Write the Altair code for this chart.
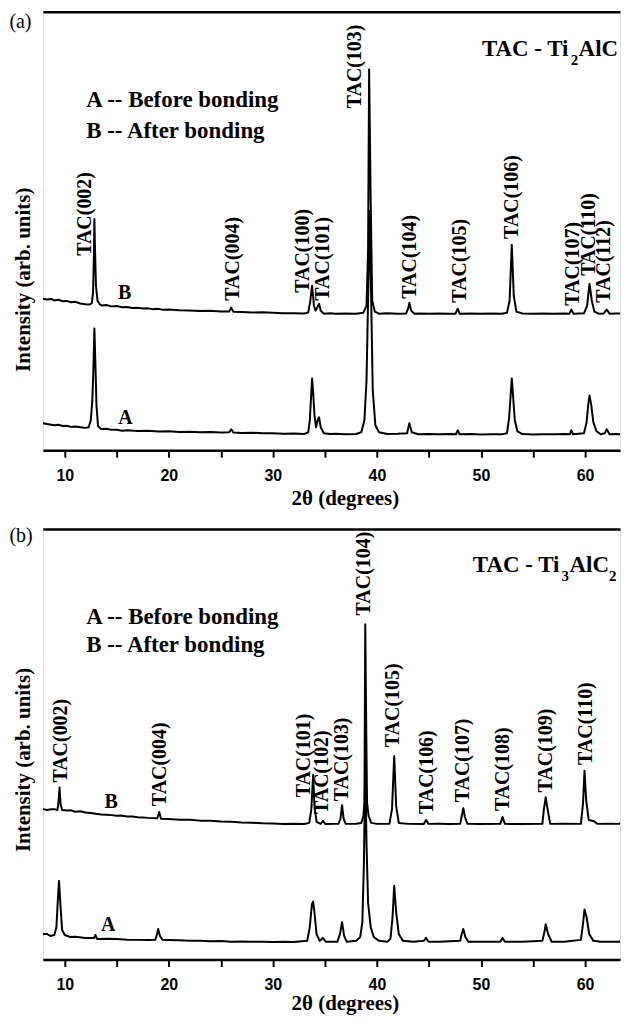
import altair as alt
import pandas as pd

# ---------------- x range of the plots (2theta, degrees) ----------------
X_MIN, X_MAX = 7.9, 63.36
X_TICKS = [10, 15, 20, 25, 30, 35, 40, 45, 50, 55, 60]

# ---------------- Panel (a): TAC - Ti2AlC ----------------
a_B_x = [7.9, 8.3, 8.7, 9.0, 9.4, 9.8, 10.2, 10.6, 11.0, 11.5, 12.0, 12.4, 12.6, 12.72, 12.8, 12.85, 12.9, 13.0, 13.15,
         13.4, 13.6, 14.0, 14.5, 15.0, 15.5, 16.0, 16.5, 17.0, 17.5, 18.0, 18.5, 19.0, 19.5, 20.0, 21.0, 22.0, 23.0,
         24.0, 25.0, 25.8, 26.0, 26.2, 27.0, 28.0, 29.0, 30.0, 31.0, 32.0, 33.0, 33.4, 33.6, 33.77, 33.95, 34.1, 34.3,
         34.44, 34.6, 34.9, 35.5, 36.0, 37.0, 38.0, 38.7, 39.0, 39.15, 39.25, 39.4, 39.55, 39.8, 40.2, 41.0, 42.0,
         42.8, 43.0, 43.12, 43.3, 43.6, 44.0, 45.0, 46.0, 47.0, 47.55, 47.76, 47.95, 49.0, 50.0, 51.0, 52.0, 52.5,
         52.75, 52.96, 53.15, 53.4, 54.0, 55.0, 56.0, 57.0, 58.0, 58.5, 58.68, 58.9, 59.9, 60.2, 60.43, 60.65, 60.9,
         61.3, 61.8, 62.09, 62.35, 63.0, 64.12]
a_B_y = [152, 151.2, 151.8, 150.3, 150.9, 149.4, 149.8, 148.5, 148.9, 147.2, 146.5, 146.2, 147.5, 158, 195, 232, 205,
         165, 150, 146, 145.2, 145.6, 144.3, 144.6, 143.5, 143.7, 142.6, 143, 142.1, 142.3, 141.4, 141.8, 140.8,
         141.1, 140.5, 140.2, 139.6, 139.8, 139.1, 139.2, 143, 139, 138.6, 138.2, 138.4, 137.8, 137.3, 137.5, 137.1,
         138, 150, 165, 145, 140, 144, 147, 140, 137, 137.3, 136.8, 137.2, 136.9, 138, 145, 200, 382, 250, 150, 139,
         137, 137.3, 136.8, 137.2, 142, 148, 140, 137, 137.2, 136.8, 137.1, 136.9, 137, 142, 137, 137.2, 136.8,
         137.1, 137, 138, 150, 206, 155, 139, 137.2, 136.8, 137.1, 136.9, 137.2, 137, 141, 137, 137.3, 145, 167,
         150, 139, 137, 137.2, 141, 137, 137.1, 136.9]

a_A_x = [7.9, 8.3, 8.7, 9.0, 9.4, 9.8, 10.2, 10.6, 11.0, 11.5, 12.0, 12.3, 12.5, 12.65, 12.75, 12.85, 12.95, 13.05,
         13.2, 13.5, 14.0, 14.5, 15.0, 15.5, 16.0, 17.0, 18.0, 19.0, 20.0, 21.0, 22.0, 23.0, 24.0, 25.0, 25.8, 26.0,
         26.2, 27.0, 28.0, 29.0, 30.0, 31.0, 32.0, 33.0, 33.4, 33.55, 33.68, 33.77, 33.87, 34.0, 34.15, 34.3, 34.44,
         34.6, 34.9, 35.5, 36.0, 37.0, 38.0, 38.5, 38.8, 39.0, 39.15, 39.3, 39.45, 39.6, 39.85, 40.2, 41.0, 42.0,
         42.9, 43.12, 43.35, 44.0, 45.0, 46.0, 47.0, 47.6, 47.76, 47.95, 49.0, 50.0, 51.0, 52.0, 52.5, 52.7, 52.85,
         52.96, 53.08, 53.25, 53.5, 54.0, 55.0, 56.0, 57.0, 58.0, 58.55, 58.68, 58.85, 59.9, 60.15, 60.3, 60.43,
         60.6, 60.8, 61.1, 61.5, 61.9, 62.09, 62.35, 63.0, 64.12]
a_A_y = [27, 26.2, 25.6, 25.1, 25.5, 24.3, 24.6, 23.4, 23.7, 23, 22.4, 23, 30, 50, 80, 122, 85, 45, 24, 21.2, 21.5,
         20.4, 20.6, 19.6, 20, 19.2, 19.5, 18.8, 19.1, 18.3, 18.6, 18, 18.3, 17.8, 18, 21, 17.8, 17.2, 17.5, 16.9,
         17.1, 16.4, 16.7, 16.2, 18, 30, 55, 72, 58, 35, 23, 30, 33, 23, 17, 16.2, 16.5, 16, 16.3, 18, 30, 70, 150,
         240, 150, 60, 25, 18, 16.2, 16.5, 17, 27, 18, 16, 16.3, 15.9, 16.2, 16, 20, 16, 16.2, 15.8, 16.1, 15.9, 17,
         32, 55, 72, 55, 30, 19, 16.2, 15.8, 16.1, 15.9, 16.2, 16, 20, 16, 17, 28, 45, 55, 45, 28, 19, 16, 17, 21, 16,
         16.2, 15.9]

a_lab_text = ["TAC(002)", "TAC(004)", "TAC(100)", "TAC(101)", "TAC(103)", "TAC(104)", "TAC(105)", "TAC(106)",
              "TAC(107)", "TAC(110)", "TAC(112)"]
a_lab_x = [11.92, 26.14, 32.94, 34.85, 37.92, 43.19, 47.98, 52.96, 58.8, 60.43, 61.86]
a_lab_y = [195, 150, 158, 150, 343, 152, 148, 212, 145, 175, 148]

# ---------------- Panel (b): TAC - Ti3AlC2 ----------------
b_B_x = [7.9, 8.3, 8.7, 9.0, 9.3, 9.4, 9.5, 9.6, 9.75, 10.2, 10.6, 11.0, 11.5, 12.0, 12.5, 13.0, 13.5, 14.0, 14.5,
         15.0, 15.5, 16.0, 16.5, 17.0, 17.5, 18.0, 18.9, 19.08, 19.25, 20.0, 21.0, 22.0, 23.0, 24.0, 25.0, 26.0,
         27.0, 28.0, 29.0, 30.0, 31.0, 32.0, 33.0, 33.5, 33.7, 33.87, 34.0, 34.2, 34.6, 34.83, 35.05, 36.0, 36.3,
         36.5, 36.65, 36.8, 37.0, 38.0, 38.5, 38.7, 38.8, 38.88, 38.98, 39.05, 39.2, 39.45, 40.0, 41.2, 41.45, 41.66,
         41.85, 42.1, 43.0, 44.5, 44.72, 44.95, 46.0, 47.0, 48.0, 48.15, 48.3, 48.45, 48.7, 50.0, 51.85, 52.07, 52.3,
         54.0, 55.9, 56.05, 56.22, 56.4, 56.65, 58.0, 59.6, 59.8, 59.95, 60.1, 60.35, 60.8, 61.2, 62.5, 63.3, 63.5,
         63.7, 64.12]
b_B_y = [153, 152.2, 152.8, 153, 152, 160, 175, 158, 152, 151.5, 151.8, 150.4, 150.8, 149.5, 149, 148.2, 147.6,
         147.2, 146.9, 146.2, 146.4, 145.5, 145.6, 144.8, 144.5, 144.1, 143.8, 150, 143.2, 143, 142.3, 142.1, 141.3,
         141.2, 140.4, 140.1, 139.4, 139.2, 138.6, 138.3, 137.9, 138.1, 137.8, 139, 153, 188, 156, 140, 138, 141,
         137.8, 138, 138, 143, 157, 143, 138, 138.2, 139, 146, 160, 341, 228, 160, 146, 139, 138, 138, 153, 207, 156,
         139, 138, 137.9, 142, 138, 138.1, 137.8, 138, 146, 154, 145, 138, 137.9, 138, 145, 138, 137.8, 138, 153,
         165, 153, 138, 138.1, 138, 158, 192, 163, 142, 141, 138, 138.1, 138, 140, 137, 138]

b_A_x = [7.9, 8.3, 8.6, 9.0, 9.2, 9.35, 9.45, 9.6, 9.75, 10.0, 10.5, 11.0, 12.0, 12.8, 12.95, 13.1, 14.0, 15.0, 16.0,
         17.0, 18.0, 18.7, 18.85, 18.98, 19.15, 19.4, 20.0, 21.0, 22.0, 23.0, 24.0, 25.0, 26.0, 27.0, 28.0, 29.0,
         30.0, 31.0, 32.0, 33.3, 33.55, 33.75, 33.87, 34.0, 34.2, 34.5, 34.8, 35.1, 36.2, 36.45, 36.65, 36.85, 37.1,
         38.0, 38.4, 38.6, 38.75, 38.88, 39.0, 39.15, 39.4, 39.7, 40.2, 41.0, 41.3, 41.5, 41.66, 41.85, 42.1, 42.5,
         43.5, 44.5, 44.72, 44.95, 46.0, 48.0, 48.15, 48.3, 48.5, 48.8, 50.0, 51.85, 52.07, 52.3, 54.0, 55.9, 56.1,
         56.22, 56.45, 56.8, 58.0, 59.6, 59.8, 59.95, 60.15, 60.4, 60.8, 61.5, 63.3, 63.5, 63.7, 64.12]
b_A_y = [26, 26, 24, 25, 33, 63, 80, 53, 30, 25, 23, 23.2, 22, 22, 25, 21, 21.2, 20.8, 20.2, 20, 19.8, 20, 25, 31, 24,
         20, 19.8, 19.5, 19, 19.2, 18.7, 18.9, 18.2, 18.4, 18, 18.2, 17.8, 18, 17.9, 19, 33, 56, 59, 48, 26, 19, 22,
         18, 18, 26, 38, 24, 18, 19, 23, 38, 98, 198, 118, 58, 33, 23, 19, 18, 21, 43, 75, 48, 26, 19, 18, 19, 22,
         18, 18.2, 19, 26, 31, 23, 18, 18.1, 18, 22, 18, 18.2, 19, 28, 36, 26, 18, 18.1, 20, 36, 51, 43, 26, 19, 18,
         18, 20, 17, 18]

b_lab_text = ["TAC(002)", "TAC(004)", "TAC(101)", "TAC(102)", "TAC(103)", "TAC(104)", "TAC(105)", "TAC(106)",
              "TAC(107)", "TAC(108)", "TAC(109)", "TAC(110)"]
b_lab_x = [9.66, 19.15, 33.04, 34.77, 36.68, 38.78, 41.56, 44.82, 48.26, 52.09, 56.21, 60.14]
b_lab_y = [180, 156, 165, 148, 161, 350, 216, 148, 160, 151, 170, 198]

# ---------------- annotation texts (data coordinates) ----------------
legend_lines = ["A -- Before bonding", "B -- After bonding"]
a_legend_x, a_legend_y = [12.06, 12.06], [351, 320]
b_legend_x, b_legend_y = [12.06, 12.06], [348, 320]
curve_names = ["B", "A"]
a_curve_x, a_curve_y = [15.75, 15.84], [158, 32]
b_curve_x, b_curve_y = [14.45, 14.17], [160, 35]
a_panel = {"text": "(a)", "x": 4.68, "y": 430}
b_panel = {"text": "(b)", "x": 4.68, "y": 431}
a_title = {"parts": ["TAC - Ti", "2", "AlC"], "x": 50.09, "y": 402}
b_title = {"parts": ["TAC - Ti", "3", "AlC", "2"], "x": 49.22, "y": 401}
y_title_text = "Intensity (arb. units)"
a_ytitle = {"x": 6.08, "y": 171}
b_ytitle = {"x": 6.08, "y": 203}

SERIF = "Liberation Serif"
SANS = "Liberation Sans"
PLOT_W = 579


def panel(curves, lab_text, lab_x, lab_y, leg_x, leg_y, cur_x, cur_y, plabel, title, ytitle, ymax, height,
          xtitle_y):
    xs = alt.Scale(domain=[X_MIN, X_MAX], nice=False, zero=False)
    ys = alt.Scale(domain=[0, ymax], nice=False, zero=False)

    rows = []
    for name, (xv, yv) in curves.items():
        for i, (a, b) in enumerate(zip(xv, yv)):
            rows.append({"series": name, "i": i, "x": a, "y": b})
    cdf = pd.DataFrame(rows)

    lines = alt.Chart(cdf).mark_line(color="black", strokeWidth=2, strokeJoin="round", clip=True).encode(
        x=alt.X("x:Q", scale=xs, axis=alt.Axis(
            orient="bottom", values=X_TICKS, labelExpr="datum.value % 10 === 0 ? datum.label : ''",
            labelOverlap=False, labelFlush=False, grid=False,
            tickSize=7, tickWidth=2, tickColor="black", domainWidth=2.5, domainColor="black",
            labelFont=SANS, labelFontWeight="bold", labelFontSize=16, labelColor="black", labelPadding=10,
            title="2θ (degrees)", titleFont=SERIF, titleFontWeight="bold", titleFontSize=21, titleColor="black",
            titleX=303, titleY=xtitle_y, titleBaseline="middle", titleAlign="center")),
        y=alt.Y("y:Q", scale=ys, axis=alt.Axis(
            orient="left", labels=False, ticks=False, grid=False, domainWidth=2.5, domainColor="black",
            title=None)),
        detail="series:N",
        order="i:Q",
    )

    ldf = pd.DataFrame({"x": lab_x, "y": lab_y, "t": lab_text})
    labels = alt.Chart(ldf).mark_text(angle=270, align="left", baseline="middle", font=SERIF,
                                      fontWeight="bold", fontSize=20, color="black").encode(
        x=alt.X("x:Q", scale=xs, axis=alt.Axis(orient="top", labels=False, ticks=False, grid=False, title=None,
                                               domainWidth=2.5, domainColor="black")),
        y=alt.Y("y:Q", scale=ys, axis=None),
        text="t:N",
    )

    gdf = pd.DataFrame({"x": leg_x, "y": leg_y, "t": legend_lines})
    legend = alt.Chart(gdf).mark_text(align="left", baseline="middle", font=SERIF, fontWeight="bold",
                                      fontSize=23, color="black").encode(
        x=alt.X("x:Q", scale=xs, axis=None), y=alt.Y("y:Q", scale=ys, axis=None), text="t:N")

    ndf = pd.DataFrame({"x": cur_x, "y": cur_y, "t": curve_names})
    names = alt.Chart(ndf).mark_text(align="center", baseline="middle", font=SERIF, fontWeight="bold",
                                     fontSize=20, color="black").encode(
        x=alt.X("x:Q", scale=xs, axis=None), y=alt.Y("y:Q", scale=ys, axis=None), text="t:N")

    pdf = pd.DataFrame([plabel])
    plab = alt.Chart(pdf).mark_text(align="left", baseline="middle", font=SERIF, fontSize=20,
                                    color="black").encode(
        x=alt.X("x:Q", scale=xs, axis=None), y=alt.Y("y:Q", scale=ys, axis=None), text="text:N")

    ydf = pd.DataFrame([{"x": ytitle["x"], "y": ytitle["y"], "t": y_title_text}])
    ytl = alt.Chart(ydf).mark_text(angle=270, align="center", baseline="middle", font=SERIF,
                                   fontWeight="bold", fontSize=21, color="black").encode(
        x=alt.X("x:Q", scale=xs, axis=None), y=alt.Y("y:Q", scale=ys, axis=None), text="t:N")

    # chemical formula title built from pieces (subscripts smaller and lowered)
    tdf = pd.DataFrame([{"x": title["x"], "y": title["y"]}])
    piece_style = [(0, 23, 0), (89, 15, 11), (97, 23, 0), (136.5, 15, 11)]
    tlayers = []
    for part, (dx, fs, dy) in zip(title["parts"], piece_style):
        tlayers.append(alt.Chart(tdf).mark_text(align="left", baseline="middle", font=SERIF, fontWeight="bold",
                                               fontSize=fs, dx=dx, dy=dy, color="black", text=part).encode(
            x=alt.X("x:Q", scale=xs, axis=None), y=alt.Y("y:Q", scale=ys, axis=None)))

    return alt.layer(lines, labels, legend, names, plab, ytl, *tlayers).properties(width=PLOT_W, height=height)


pa = panel({"B": (a_B_x, a_B_y), "A": (a_A_x, a_A_y)}, a_lab_text, a_lab_x, a_lab_y, a_legend_x, a_legend_y,
           a_curve_x, a_curve_y, a_panel, a_title, a_ytitle, 440, 440, 48)
pb = panel({"B": (b_B_x, b_B_y), "A": (b_A_x, b_A_y)}, b_lab_text, b_lab_x, b_lab_y, b_legend_x, b_legend_y,
           b_curve_x, b_curve_y, b_panel, b_title, b_ytitle, 438, 432, 44)

chart = alt.vconcat(pa, pb, spacing=16).properties(
    padding={"left": 0, "top": 1, "right": 0, "bottom": 0}
).configure_view(stroke=None).configure(background="white")

chart.save("out.html", embed_options={"renderer": "svg", "actions": False})
